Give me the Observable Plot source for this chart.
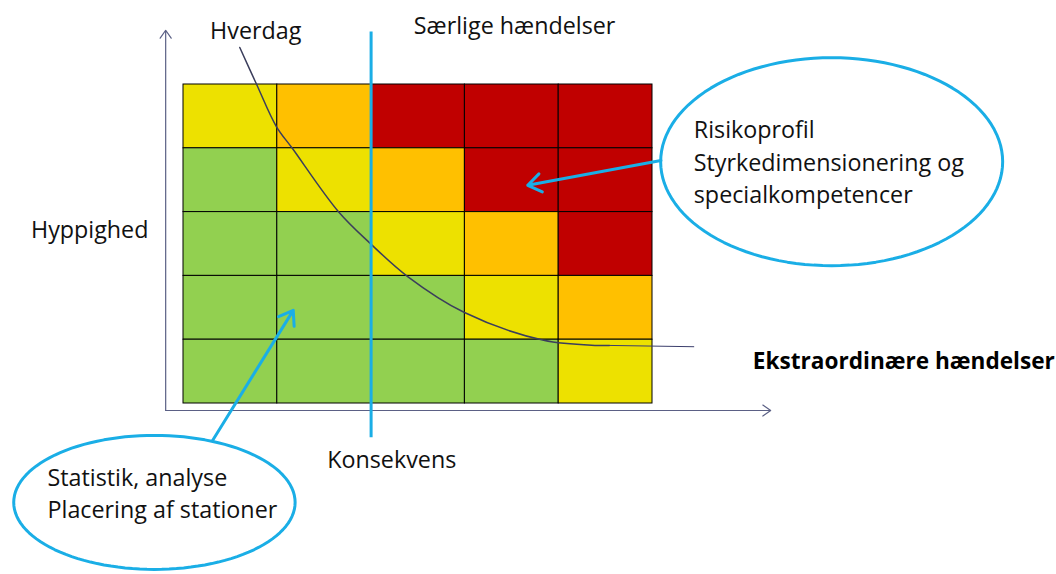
<!DOCTYPE html>
<html>
<head>
<meta charset="utf-8">
<script src="https://cdn.jsdelivr.net/npm/d3@7"></script>
<script src="https://cdn.jsdelivr.net/npm/@observablehq/plot@0.6"></script>
<style>
  html, body { margin: 0; padding: 0; background: #fff; }
  svg { overflow: visible; }
</style>
</head>
<body>
<div id="chart"></div>
<script>
// Risk matrix: consequence (columns 1..5) × frequency (rows, top = 5)
const consequences = [1, 2, 3, 4, 5];
const frequencies = [5, 4, 3, 2, 1];
const row5 = ["gul", "orange", "rød", "rød", "rød"];
const row4 = ["grøn", "gul", "orange", "rød", "rød"];
const row3 = ["grøn", "grøn", "gul", "orange", "rød"];
const row2 = ["grøn", "grøn", "grøn", "gul", "orange"];
const row1 = ["grøn", "grøn", "grøn", "grøn", "gul"];
const riskRows = [row5, row4, row3, row2, row1];
const riskLevels = ["grøn", "gul", "orange", "rød"];
const riskColors = ["#92d050", "#ede100", "#ffc000", "#c00000"];

// "Hverdag" boundary curve (consequence, frequency)
const curveX = [0.60, 0.78, 0.99, 1.16, 1.65, 1.99, 2.39, 2.99, 3.84, 4.41, 4.54];
const curveY = [5.58, 5.00, 4.34, 4.00, 3.01, 2.51, 1.99, 1.43, 0.99, 0.91, 0.91];
const tailX = [4.54, 5.44];
const tailY = [0.91, 0.89];

// separator between everyday and special events
const separatorX = 2.0;
const separatorY = [5.83, -0.53];

// axes
const axisOrigin = [-0.19, -0.11];
const axisYEnd = 5.85;
const axisXEnd = 6.26;

// callout ellipses [cx, cy, rx, ry]
const ellipseRight = [6.91, 3.79, 1.823, 1.63];
const ellipseLeft = [-0.31, -1.55, 1.50, 1.05];

// callout arrows
const arrows = [
  {x1: 5.09, y1: 3.81, x2: 3.67, y2: 3.42},
  {x1: 0.31, y1: -0.58, x2: 1.17, y2: 1.46}
];

// texts
const centerLabels = [
  {x: 0.77, y: 5.83, text: "Hverdag"},
  {x: 3.53, y: 5.91, text: "Særlige hændelser"},
  {x: -1.00, y: 2.71, text: "Hyppighed"},
  {x: 2.22, y: -0.89, text: "Konsekvens"}
];
const leftLabels = [
  {x: 5.44, y: 4.28, text: "Risikoprofil"},
  {x: 5.44, y: 3.76, text: "Styrkedimensionering og"},
  {x: 5.44, y: 3.26, text: "specialkompetencer"},
  {x: -1.45, y: -1.18, text: "Statistik, analyse"},
  {x: -1.45, y: -1.68, text: "Placering af stationer"}
];
const boldLabels = [
  {x: 6.07, y: 0.66, text: "Ekstraordinære hændelser"}
];

// build tables
const cells = [];
riskRows.forEach((row, r) => row.forEach((level, c) => {
  cells.push({x1: consequences[c] - 1, x2: consequences[c], y1: frequencies[r] - 1, y2: frequencies[r], level});
}));
const curve = curveX.map((x, i) => ({x, y: curveY[i]}));
const tail = tailX.map((x, i) => ({x, y: tailY[i]}));
function ellipsePts([cx, cy, rx, ry]) {
  return d3.range(0, 361, 3).map(a => ({
    x: cx + rx * Math.cos(a * Math.PI / 180),
    y: cy + ry * Math.sin(a * Math.PI / 180)
  }));
}

const blue = "#1aaee6";
const axisColor = "#5b6085";
const font = "'Open Sans', sans-serif";

const chart = Plot.plot({
  width: 1056,
  height: 574,
  marginLeft: 183,
  marginRight: 404,
  marginTop: 84,
  marginBottom: 171,
  x: {domain: [0, 5], axis: null},
  y: {domain: [0, 5], axis: null},
  color: {domain: riskLevels, range: riskColors},
  style: {fontFamily: font, background: "#fff"},
  marks: [
    Plot.rect(cells, {x1: "x1", x2: "x2", y1: "y1", y2: "y2", fill: "level", stroke: "#000", strokeWidth: 1}),
    Plot.arrow([{x1: axisOrigin[0], y1: axisOrigin[1], x2: axisOrigin[0], y2: axisYEnd}], {x1: "x1", y1: "y1", x2: "x2", y2: "y2", stroke: axisColor, strokeWidth: 1.2, headLength: 12, headAngle: 70}),
    Plot.arrow([{x1: axisOrigin[0], y1: axisOrigin[1], x2: axisXEnd, y2: axisOrigin[1]}], {x1: "x1", y1: "y1", x2: "x2", y2: "y2", stroke: axisColor, strokeWidth: 1.2, headLength: 12, headAngle: 70}),
    Plot.line(curve, {x: "x", y: "y", curve: "catmull-rom", stroke: "#3b3e5c", strokeWidth: 1.5}),
    Plot.line(tail, {x: "x", y: "y", stroke: "#3b3e6c", strokeWidth: 1}),
    Plot.link([{x: separatorX, y1: separatorY[0], y2: separatorY[1]}], {x1: "x", x2: "x", y1: "y1", y2: "y2", stroke: blue, strokeWidth: 3}),
    Plot.line(ellipsePts(ellipseRight), {x: "x", y: "y", stroke: blue, strokeWidth: 3, curve: "linear-closed"}),
    Plot.line(ellipsePts(ellipseLeft), {x: "x", y: "y", stroke: blue, strokeWidth: 3, curve: "linear-closed"}),
    Plot.arrow(arrows, {x1: "x1", y1: "y1", x2: "x2", y2: "y2", stroke: blue, strokeWidth: 3, headLength: 8, headAngle: 70}),
    Plot.text(centerLabels, {x: "x", y: "y", text: "text", fontSize: 23.3, fill: "#111", textAnchor: "middle"}),
    Plot.text(leftLabels, {x: "x", y: "y", text: "text", fontSize: 23.3, fill: "#111", textAnchor: "start"}),
    Plot.text(boldLabels, {x: "x", y: "y", text: "text", fontSize: 22.6, fontWeight: "bold", fill: "#000", textAnchor: "start"})
  ]
});
document.getElementById("chart").appendChild(chart);
</script>
</body>
</html>
